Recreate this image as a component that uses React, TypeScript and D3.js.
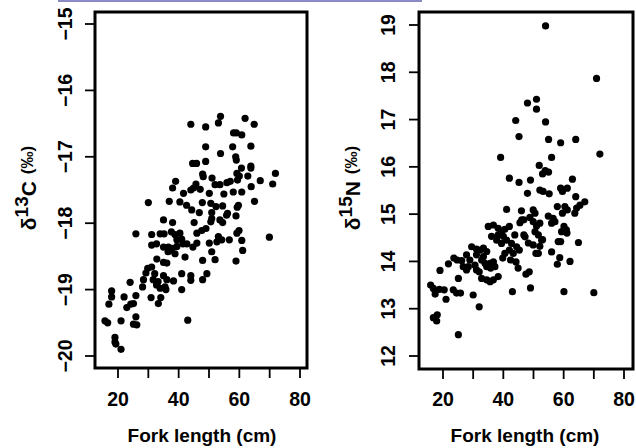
import * as d3 from "d3";

// fork length (cm) and delta 13C (permil), left panel
const carbonLength = [
  44.0, 48.9, 53.1, 53.8, 61.9, 64.9, 58.1, 59.0, 60.8, 48.9, 57.8, 63.8, 53.8, 58.8, 59.0,
  44.6, 45.9, 48.9, 63.8, 63.8, 60.7, 71.9, 47.9, 48.1, 59.2, 60.0, 51.0, 62.8, 39.0, 38.0,
  66.9, 71.0, 45.7, 52.0, 53.6, 55.9, 57.0, 59.4, 63.9, 44.0, 44.9, 47.1, 41.6, 50.1, 54.9,
  58.0, 60.8,
  30.0, 36.9, 40.4, 42.6, 44.3, 47.8, 50.6, 52.3, 54.5, 56.1, 59.7, 59.3, 65.0, 46.8, 50.9,
  50.9, 50.6, 53.6, 54.5, 55.8, 58.9, 45.1, 35.0, 38.0, 25.9, 31.1, 33.9, 35.2, 37.6, 38.8,
  40.4, 41.0, 39.4, 46.0, 47.6, 49.0, 59.2, 59.9, 69.9, 53.1, 54.2, 56.7, 52.6, 50.1, 60.8,
  31.1, 32.7, 35.0, 36.6, 37.7, 39.4, 41.4, 42.7, 44.7, 46.0, 36.5, 38.8, 42.1, 37.2, 50.9,
  52.0, 47.9, 58.9, 61.1, 32.8, 35.0, 36.1, 29.8, 31.1, 29.2, 28.4, 32.1, 35.0, 36.1, 38.3,
  33.2, 31.6, 41.0, 44.0, 44.0, 41.0, 49.3, 47.9, 24.0, 28.1, 32.7, 33.9, 35.5, 35.8, 17.9,
  17.9, 22.0, 25.9, 30.9, 34.1, 33.3, 17.0, 22.9, 24.2, 25.1, 25.9, 25.1, 26.2, 15.7, 16.6,
  21.0, 43.0, 19.0, 19.0, 19.3, 21.0,
];
const carbonValue = [
  -16.51, -16.55, -16.49, -16.39, -16.42, -16.51, -16.64, -16.64, -16.67, -16.85, -16.85, -16.84, -16.95, -17.0, -17.05,
  -17.1, -17.1, -17.07, -17.14, -17.17, -17.17, -17.25, -17.26, -17.3, -17.25, -17.29, -17.32, -17.29, -17.37, -17.47,
  -17.36, -17.41, -17.41, -17.42, -17.42, -17.39, -17.37, -17.35, -17.45, -17.5, -17.47, -17.49, -17.55, -17.55, -17.56,
  -17.53, -17.53,
  -17.69, -17.67, -17.68, -17.73, -17.8, -17.69, -17.7, -17.75, -17.74, -17.85, -17.73, -17.76, -17.67, -17.84, -17.84,
  -17.93, -17.98, -17.95, -17.99, -17.88, -17.89, -17.99, -17.95, -17.99, -18.16, -18.17, -18.16, -18.16, -18.13, -18.17,
  -18.15, -18.24, -18.25, -18.15, -18.11, -18.08, -18.15, -18.11, -18.21, -18.2, -18.25, -18.25, -18.28, -18.3, -18.26,
  -18.33, -18.31, -18.36, -18.36, -18.38, -18.35, -18.31, -18.31, -18.36, -18.3, -18.43, -18.46, -18.51, -18.41, -18.43,
  -18.55, -18.56, -18.57, -18.41, -18.54, -18.59, -18.6, -18.68, -18.66, -18.75, -18.85, -18.76, -18.79, -18.85, -18.87,
  -18.88, -18.85, -18.76, -18.79, -18.86, -19.0, -18.76, -18.85, -18.89, -18.96, -18.93, -18.98, -18.96, -19.0, -19.02,
  -19.11, -19.11, -19.09, -19.12, -19.12, -19.21, -19.22, -19.27, -19.22, -19.21, -19.41, -19.52, -19.53, -19.47, -19.5,
  -19.47, -19.46, -19.72, -19.79, -19.82, -19.9,
];

// fork length (cm) and delta 15N (permil), right panel
const nitrogenLength = [
  54.0, 70.9, 48.0, 51.0, 51.0, 44.1, 54.0, 45.2, 55.0, 59.0, 64.0, 72.0, 39.1, 56.0, 51.9,
  53.9, 55.0, 53.0, 42.0, 45.2, 49.0, 62.9, 52.1, 53.2, 55.2, 48.0, 59.0, 59.6, 61.2, 64.0,
  41.1, 46.0, 49.9, 48.8, 46.8, 45.5, 49.9, 51.0, 54.9, 56.5, 56.0, 57.1, 57.9, 60.4, 61.2,
  59.6, 64.3, 63.7, 67.0, 65.4, 60.1, 60.9, 59.3, 61.1, 50.5, 51.6, 53.0, 52.1, 46.8, 48.3,
  49.9, 51.6, 50.8, 58.2, 59.0, 64.9, 56.0, 58.7, 62.1, 57.9, 47.5, 48.6, 49.0, 43.0, 60.1,
  70.0, 50.5, 52.1, 52.7, 47.2, 46.1,
  35.0, 36.7, 38.3, 39.4, 40.5, 42.0, 38.3, 40.0, 41.1, 39.4, 37.8, 36.1, 43.8, 42.7, 44.4,
  45.3, 42.0, 40.5, 43.3, 42.4, 44.2, 44.9, 39.8,
  29.5, 31.1, 32.3, 33.4, 34.5, 31.1, 33.4, 32.8, 33.9, 35.6, 36.7, 34.5, 35.8, 37.2, 30.6,
  28.9, 27.8, 28.4, 31.1, 32.0, 32.8, 34.5, 35.6, 36.7, 38.3,
  23.6, 24.7, 26.2, 26.7, 27.8, 21.8, 19.0, 25.1, 15.9, 16.8, 17.4, 18.8, 20.4, 23.4, 24.5,
  25.8, 21.0, 30.0, 32.0, 16.8, 18.1, 17.9, 25.1,
];
const nitrogenValue = [
  18.98, 17.87, 17.35, 17.43, 17.22, 16.98, 16.95, 16.64, 16.58, 16.51, 16.58, 16.27, 16.2, 16.2, 16.03,
  15.92, 15.89, 15.85, 15.76, 15.67, 15.72, 15.74, 15.51, 15.48, 15.43, 15.44, 15.55, 15.48, 15.55, 15.37,
  15.1, 15.07, 15.09, 14.93, 14.88, 14.82, 14.84, 14.75, 14.96, 14.91, 14.81, 14.84, 15.16, 15.16, 15.09,
  15.02, 15.13, 15.02, 15.26, 15.19, 14.74, 14.67, 14.63, 14.6, 14.63, 14.56, 14.46, 14.32, 14.56, 14.39,
  14.35, 14.17, 14.17, 14.42, 14.42, 14.4, 14.2, 14.08, 14.0, 13.94, 13.73, 13.78, 13.44, 13.36, 13.36,
  13.34, 15.02, 14.81, 14.45, 14.52, 14.88,
  14.74, 14.77, 14.7, 14.63, 14.68, 14.74, 14.56, 14.53, 14.45, 14.38, 14.45, 14.53, 14.56, 14.38, 14.31,
  14.24, 14.24, 14.17, 14.17, 14.03, 13.99, 13.86, 14.07,
  14.31, 14.26, 14.24, 14.28, 14.21, 14.14, 14.1, 14.03, 13.96, 13.96, 13.99, 13.89, 13.86, 13.89, 13.92,
  14.03, 14.14, 13.89, 13.82, 13.78, 13.64, 13.61, 13.57, 13.61, 13.68,
  14.07, 14.03, 14.02, 13.89, 13.82, 13.95, 13.81, 13.64, 13.5, 13.43, 13.31, 13.41, 13.4, 13.4, 13.33,
  13.33, 13.2, 13.29, 13.04, 12.81, 12.87, 12.74, 12.45,
];

const lengthTicks = [20, 30, 40, 50, 60, 70, 80];
const lengthLabels = [20, 40, 60, 80];
const carbonTicks = [-15, -16, -17, -18, -19, -20];
const nitrogenTicks = [19, 18, 17, 16, 15, 14, 13, 12];

const font = "'Liberation Sans', Arial, Helvetica, sans-serif";

type PanelProps = {
  xs: number[];
  ys: number[];
  x: d3.ScaleLinear<number, number>;
  y: d3.ScaleLinear<number, number>;
  box: { left: number; right: number; top: number; bottom: number };
  yTicks: number[];
  yLabelX: number;
  titleX: number;
  element: string;
  mass: string;
};

const fmt = (v: number) => (v < 0 ? "\u2212" + Math.abs(v) : String(v));

function Panel({ xs, ys, x, y, box, yTicks, yLabelX, titleX, element, mass }: PanelProps) {
  const titleY = 188;
  return (
    <g>
      {xs.map((d, i) => (
        <circle key={i} cx={x(d)} cy={y(ys[i])} r={3.6} fill="#000" />
      ))}
      <rect
        x={box.left}
        y={box.top}
        width={box.right - box.left}
        height={box.bottom - box.top}
        fill="none"
        stroke="#000"
        strokeWidth={3}
      />
      {lengthTicks.map((t) => (
        <line key={t} x1={x(t)} x2={x(t)} y1={box.bottom} y2={box.bottom + 10} stroke="#000" strokeWidth={1.8} />
      ))}
      {lengthLabels.map((t) => (
        <text key={t} x={x(t)} y={406} textAnchor="middle" fontSize={19.5} fontWeight="bold" fontFamily={font}>
          {t}
        </text>
      ))}
      {yTicks.map((t) => (
        <g key={t}>
          <line x1={box.left - 10} x2={box.left} y1={y(t)} y2={y(t)} stroke="#000" strokeWidth={1.8} />
          <text
            transform={`translate(${yLabelX},${y(t)}) rotate(-90)`}
            textAnchor="middle"
            fontSize={19.5}
            fontWeight="bold"
            fontFamily={font}
          >
            {fmt(t)}
          </text>
        </g>
      ))}
      <text x={titleX} y={442} textAnchor="middle" fontSize={19} fontWeight="bold" fontFamily={font}>
        Fork length (cm)
      </text>
      <text
        transform={`translate(${box.left - 59},${titleY}) rotate(-90)`}
        textAnchor="middle"
        fontWeight="bold"
        fontFamily={font}
      >
        <tspan fontSize={21}>δ</tspan>
        <tspan fontSize={19} dy={-8}>
          {mass}
        </tspan>
        <tspan fontSize={21} dy={8}>
          {element}
        </tspan>
        <tspan fontSize={17} dx={7} dy={-3}>
          (‰)
        </tspan>
      </text>
    </g>
  );
}

export default function App() {
  const xLeft = d3.scaleLinear().domain([20, 80]).range([118, 300]);
  const yLeft = d3.scaleLinear().domain([-15, -20]).range([24, 356]);
  const xRight = d3.scaleLinear().domain([20, 80]).range([443, 624]);
  const yRight = d3.scaleLinear().domain([19, 12]).range([25, 356]);

  return (
    <svg
      width={636}
      height={448}
      viewBox="0 0 636 448"
      style={{ position: "absolute", left: 0, top: 0, background: "#fff" }}
    >
      <rect x={0} y={0} width={636} height={448} fill="#fff" />
      <rect x={58} y={0} width={364} height={2} fill="#8a8ac6" />
      <Panel
        xs={carbonLength}
        ys={carbonValue}
        x={xLeft}
        y={yLeft}
        box={{ left: 95, right: 307, top: 12, bottom: 368 }}
        yTicks={carbonTicks}
        yLabelX={72}
        titleX={202}
        element="C"
        mass="13"
      />
      <Panel
        xs={nitrogenLength}
        ys={nitrogenValue}
        x={xRight}
        y={yRight}
        box={{ left: 419, right: 633, top: 12, bottom: 369 }}
        yTicks={nitrogenTicks}
        yLabelX={395}
        titleX={525}
        element="N"
        mass="15"
      />
    </svg>
  );
}
